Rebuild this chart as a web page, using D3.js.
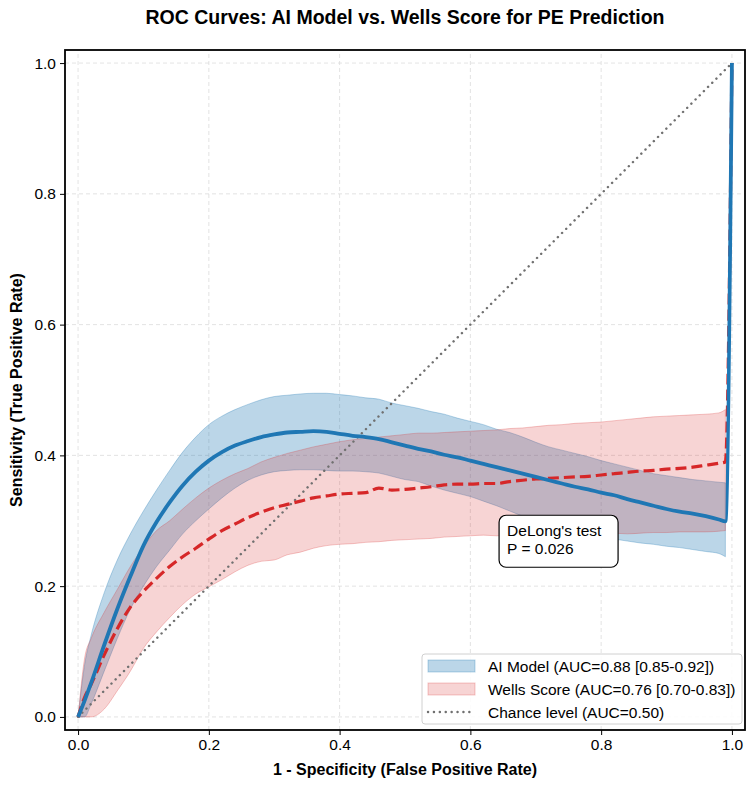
<!DOCTYPE html>
<html>
<head>
<meta charset="utf-8">
<script src="https://cdn.jsdelivr.net/npm/d3@7"></script>
<style>
  body { margin: 0; background: #fff; }
  svg { font-family: "Liberation Sans", Arial, sans-serif; }
</style>
</head>
<body>
<div id="chart"></div>
<script>
// ROC curves

// false positive rate grid
const fpr = [0, 0.01, 0.02, 0.04, 0.06, 0.08, 0.10, 0.12, 0.14, 0.16, 0.18, 0.20, 0.22, 0.24, 0.26, 0.28, 0.30,
  0.32, 0.34, 0.36, 0.38, 0.40, 0.42, 0.44, 0.46, 0.48, 0.50, 0.52, 0.54, 0.56, 0.58, 0.60, 0.62, 0.64, 0.66,
  0.68, 0.70, 0.72, 0.74, 0.76, 0.78, 0.80, 0.82, 0.84, 0.86, 0.88, 0.90, 0.92, 0.94, 0.96, 0.98, 0.99, 1.0];

// AI model
const aiMean = [0, 0.025, 0.052, 0.11, 0.165, 0.215, 0.262, 0.298, 0.328, 0.354, 0.375, 0.392, 0.405, 0.415, 0.422, 0.428, 0.432,
  0.435, 0.436, 0.437, 0.436, 0.433, 0.430, 0.428, 0.425, 0.420, 0.415, 0.410, 0.406, 0.401, 0.397, 0.392, 0.387, 0.382, 0.377,
  0.372, 0.367, 0.362, 0.357, 0.352, 0.348, 0.343, 0.339, 0.333, 0.328, 0.323, 0.318, 0.314, 0.311, 0.307, 0.302, 0.299, 1.0];
const aiUpper = [0, 0.08, 0.125, 0.19, 0.24, 0.28, 0.315, 0.347, 0.377, 0.405, 0.428, 0.447, 0.46, 0.47, 0.478, 0.485, 0.49,
  0.492, 0.494, 0.495, 0.495, 0.493, 0.491, 0.488, 0.486, 0.48, 0.476, 0.472, 0.467, 0.463, 0.457, 0.452, 0.447, 0.44, 0.435,
  0.428, 0.42, 0.413, 0.408, 0.403, 0.398, 0.392, 0.387, 0.382, 0.377, 0.372, 0.369, 0.366, 0.363, 0.361, 0.359, 0.358];
const aiLower = [0, 0, 0.02, 0.07, 0.12, 0.165, 0.20, 0.23, 0.255, 0.28, 0.30, 0.318, 0.335, 0.35, 0.362, 0.37, 0.375,
  0.377, 0.378, 0.378, 0.377, 0.376, 0.376, 0.375, 0.373, 0.368, 0.363, 0.36, 0.353, 0.347, 0.342, 0.337, 0.33, 0.323, 0.315,
  0.307, 0.30, 0.295, 0.29, 0.285, 0.28, 0.276, 0.272, 0.269, 0.266, 0.264, 0.261, 0.259, 0.256, 0.253, 0.25, 0.245];

// Wells score
const wellsMean = [0, 0.03, 0.05, 0.095, 0.135, 0.168, 0.192, 0.212, 0.23, 0.245, 0.258, 0.272, 0.285, 0.295, 0.305, 0.313, 0.32,
  0.325, 0.33, 0.335, 0.338, 0.341, 0.342, 0.343, 0.35, 0.347, 0.348, 0.35, 0.352, 0.355, 0.356, 0.356, 0.357, 0.357, 0.36,
  0.362, 0.364, 0.365, 0.366, 0.367, 0.368, 0.37, 0.372, 0.374, 0.376, 0.377, 0.379, 0.38, 0.382, 0.385, 0.388, 0.39, 1.0];
const wellsUpper = [0, 0.09, 0.12, 0.16, 0.195, 0.23, 0.26, 0.285, 0.30, 0.318, 0.335, 0.35, 0.362, 0.372, 0.38, 0.39, 0.397,
  0.403, 0.408, 0.413, 0.417, 0.421, 0.424, 0.426, 0.428, 0.43, 0.432, 0.434, 0.434, 0.435, 0.436, 0.437, 0.438, 0.439, 0.441,
  0.442, 0.444, 0.446, 0.447, 0.449, 0.45, 0.451, 0.453, 0.455, 0.457, 0.459, 0.46, 0.461, 0.462, 0.463, 0.465, 0.47];
const wellsLower = [0, 0, 0, 0.012, 0.04, 0.07, 0.105, 0.13, 0.152, 0.172, 0.188, 0.199, 0.21, 0.222, 0.232, 0.238, 0.24,
  0.248, 0.252, 0.258, 0.262, 0.264, 0.265, 0.267, 0.268, 0.27, 0.271, 0.272, 0.273, 0.275, 0.276, 0.277, 0.278, 0.277, 0.278,
  0.278, 0.279, 0.278, 0.279, 0.28, 0.28, 0.28, 0.281, 0.28, 0.281, 0.282, 0.282, 0.283, 0.283, 0.283, 0.284, 0.285];

const ticks = [0, 0.2, 0.4, 0.6, 0.8, 1.0];
const legendLabels = ["AI Model (AUC=0.88 [0.85-0.92])", "Wells Score (AUC=0.76 [0.70-0.83])", "Chance level (AUC=0.50)"];
const annotationLines = ["DeLong's test", "P = 0.026"];
const annotationAt = [0.65, 0.232];

const blue = "#1f77b4";
const red = "#d62728";

const width = 755;
const height = 787;
const margin = { top: 50, right: 10, bottom: 57, left: 65 };

const svg = d3.select("#chart").append("svg")
  .attr("width", width)
  .attr("height", height);

const x = d3.scaleLinear().domain([-0.02, 1.02]).range([margin.left, width - margin.right]);
const y = d3.scaleLinear().domain([-0.02, 1.02]).range([height - margin.bottom, margin.top]);

// grid
const grid = svg.append("g");
ticks.forEach(t => {
  grid.append("line").attr("x1", x(t)).attr("x2", x(t)).attr("y1", y(-0.02)).attr("y2", y(1.02))
    .attr("stroke", "#dcdcdc").attr("stroke-width", 0.8).attr("stroke-dasharray", "4,3");
  grid.append("line").attr("y1", y(t)).attr("y2", y(t)).attr("x1", x(-0.02)).attr("x2", x(1.02))
    .attr("stroke", "#dcdcdc").attr("stroke-width", 0.8).attr("stroke-dasharray", "4,3");
});

// bands
const bandArea = (lo, hi) => d3.area()
  .x((d, i) => x(fpr[i]))
  .y0((d, i) => y(lo[i]))
  .y1((d, i) => y(hi[i]))
  .curve(d3.curveMonotoneX);

svg.append("path").datum(aiLower)
  .attr("d", bandArea(aiLower, aiUpper))
  .attr("fill", blue).attr("fill-opacity", 0.3)
  .attr("stroke", blue).attr("stroke-opacity", 0.3).attr("stroke-width", 1);

svg.append("path").datum(wellsLower)
  .attr("d", bandArea(wellsLower, wellsUpper))
  .attr("fill", red).attr("fill-opacity", 0.2)
  .attr("stroke", red).attr("stroke-opacity", 0.25).attr("stroke-width", 1);

// chance line
svg.append("line")
  .attr("x1", x(0)).attr("y1", y(0)).attr("x2", x(1)).attr("y2", y(1))
  .attr("stroke", "#707070").attr("stroke-width", 2.4)
  .attr("stroke-dasharray", "0.1,5.8").attr("stroke-linecap", "round");

const line = d3.line().x((d, i) => x(fpr[i])).y(d => y(d)).curve(d3.curveMonotoneX);

// wells line
svg.append("path").datum(wellsMean)
  .attr("d", line)
  .attr("fill", "none").attr("stroke", red).attr("stroke-width", 3.2)
  .attr("stroke-dasharray", "11,5");

// AI line
svg.append("path").datum(aiMean)
  .attr("d", line)
  .attr("fill", "none").attr("stroke", blue).attr("stroke-width", 3.8)
  .attr("stroke-linejoin", "round");

// axes
const xAxis = svg.append("g")
  .attr("transform", `translate(0, ${height - margin.bottom})`)
  .call(d3.axisBottom(x).tickValues(ticks).tickFormat(d3.format(".1f")).tickSize(5).tickPadding(4));
const yAxis = svg.append("g")
  .attr("transform", `translate(${margin.left}, 0)`)
  .call(d3.axisLeft(y).tickValues(ticks).tickFormat(d3.format(".1f")).tickSize(5).tickPadding(4));
[xAxis, yAxis].forEach(a => {
  a.select(".domain").remove();
  a.selectAll(".tick line").attr("stroke", "#000").attr("stroke-width", 1);
  a.selectAll(".tick text").attr("fill", "#000").style("font-size", "15.5px");
});

// frame
svg.append("rect")
  .attr("x", x(-0.02)).attr("y", y(1.02))
  .attr("width", x(1.02) - x(-0.02)).attr("height", y(-0.02) - y(1.02))
  .attr("fill", "none").attr("stroke", "#000").attr("stroke-width", 1.8);

// annotation box
const ann = svg.append("g").attr("transform", `translate(${x(annotationAt[0])}, ${y(annotationAt[1])})`);
ann.append("rect")
  .attr("x", -4).attr("y", -50).attr("width", 119).attr("height", 52)
  .attr("rx", 7).attr("fill", "#fff").attr("stroke", "#000").attr("stroke-width", 1.2);
annotationLines.forEach((t, i) => {
  ann.append("text").attr("x", 4).attr("y", -29 + i * 18)
    .style("font-size", "15.5px").attr("fill", "#000").text(t);
});

// legend
const lg = svg.append("g").attr("transform", "translate(422, 654)");
lg.append("rect").attr("width", 320).attr("height", 70).attr("rx", 3)
  .attr("fill", "#fff").attr("fill-opacity", 0.85).attr("stroke", "#d0d0d0").attr("stroke-width", 1);
legendLabels.forEach((t, i) => {
  const row = lg.append("g").attr("transform", `translate(0, ${12 + i * 23})`);
  if (i === 0) {
    row.append("rect").attr("x", 6).attr("y", -6).attr("width", 47).attr("height", 12)
      .attr("fill", blue).attr("fill-opacity", 0.3).attr("stroke", blue).attr("stroke-opacity", 0.3);
  } else if (i === 1) {
    row.append("rect").attr("x", 6).attr("y", -6).attr("width", 47).attr("height", 12)
      .attr("fill", red).attr("fill-opacity", 0.2).attr("stroke", red).attr("stroke-opacity", 0.25);
  } else {
    row.append("line").attr("x1", 6).attr("x2", 53).attr("y1", 0).attr("y2", 0)
      .attr("stroke", "#707070").attr("stroke-width", 2.4)
      .attr("stroke-dasharray", "0.1,5.8").attr("stroke-linecap", "round");
  }
  row.append("text").attr("x", 66).attr("y", 5.5)
    .style("font-size", "15.5px").attr("fill", "#000").text(t);
});

// title and labels
svg.append("text").attr("x", (margin.left + width - margin.right) / 2).attr("y", 24)
  .attr("text-anchor", "middle").style("font-size", "19.5px").style("font-weight", "bold")
  .text("ROC Curves: AI Model vs. Wells Score for PE Prediction");
svg.append("text").attr("x", (margin.left + width - margin.right) / 2).attr("y", 775)
  .attr("text-anchor", "middle").style("font-size", "16px").style("font-weight", "bold")
  .text("1 - Specificity (False Positive Rate)");
svg.append("text")
  .attr("transform", `translate(22, ${(margin.top + height - margin.bottom) / 2}) rotate(-90)`)
  .attr("text-anchor", "middle").style("font-size", "16px").style("font-weight", "bold")
  .text("Sensitivity (True Positive Rate)");
</script>
</body>
</html>
